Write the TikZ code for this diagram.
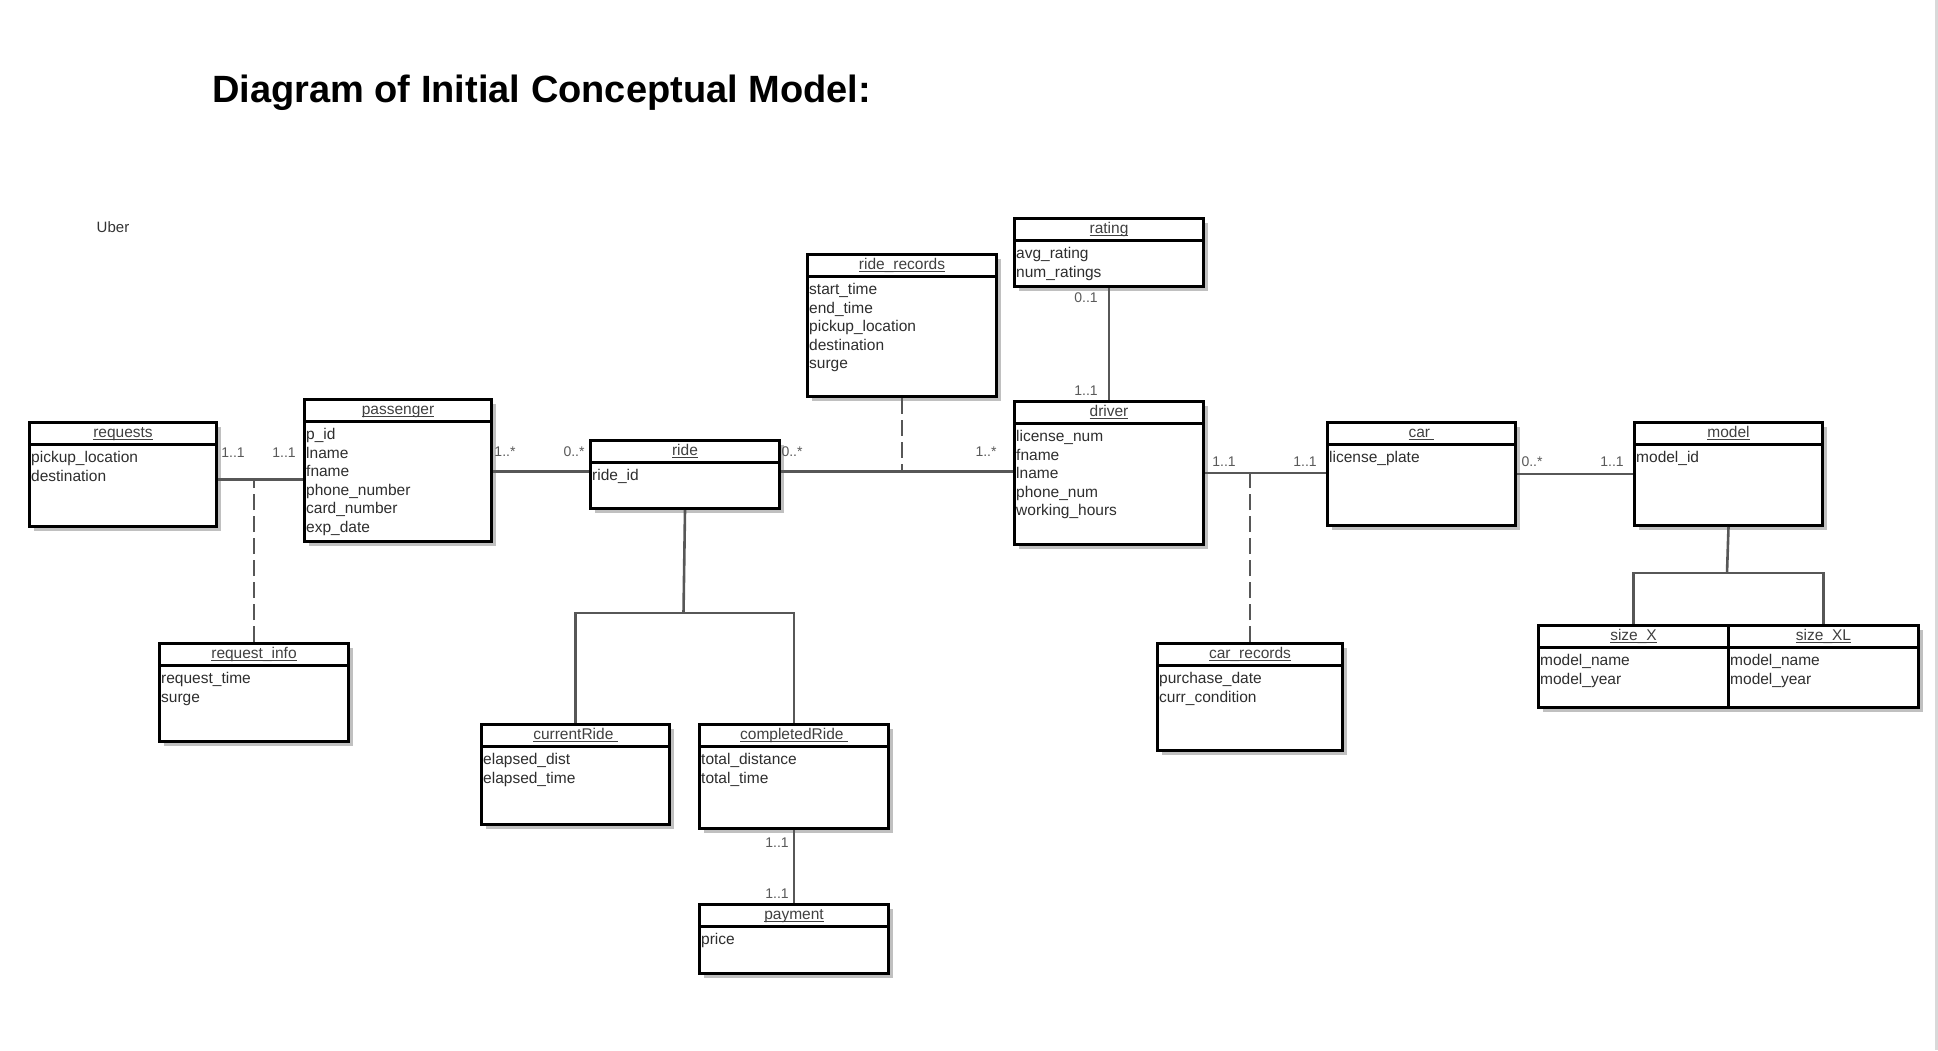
\documentclass[tikz,border=0pt]{standalone}
\usepackage{fontspec}
\setmainfont{Liberation Sans}
\usetikzlibrary{positioning, shadows, calc}

\tikzset{
  box/.style={draw=black, line width=3pt, fill=white, anchor=north west,
    inner sep=0pt,
    drop shadow={shadow xshift=4.5pt, shadow yshift=-4.5pt, fill=black!45, opacity=0.55}},
  hdr/.style={line width=2.6pt, draw=black},
  ttl/.style={font=\fontsize{15.5}{18}\selectfont, text=black!75, inner sep=0pt,
    anchor=base},
  attr/.style={font=\fontsize{15.5}{18.6}\selectfont, text=black!82,
    align=left, anchor=north west, inner xsep=3pt, inner ysep=0pt},
  conn/.style={draw=black!66, line width=2.6pt},
  dsh/.style={conn, dash pattern=on 16pt off 6pt},
  mult/.style={font=\fontsize{14}{16}\selectfont, text=black!65, inner sep=0pt}
}

% underline at a fixed depth below the baseline
\newcommand\ulname[1]{\setbox0\hbox{#1}\rlap{\rule[-2.4pt]{\wd0}{0.9pt}}\box0}

% class box: name, left, top, width, height, title, attributes
\newcommand\umlbox[7]{%
  \node[box, minimum width=#4, minimum height=#5] (#1) at (#2,#3) {};
  \draw[hdr] ([yshift=-23.5pt]#1.north west) -- ([yshift=-23.5pt]#1.north east);
  \node[ttl] (#1-ttl) at ([yshift=-16.5pt]#1.north) {\ulname{#6}};
  \node[attr] (#1-att) at ([yshift=-30pt]#1.north west) {#7};
}

\begin{document}
\begin{tikzpicture}[x=1pt, y=-1pt]
\useasboundingbox (0,0) rectangle (1938,1050);

% page edge
\draw[draw=black!15, line width=2.5pt] (1936.5,0) -- (1936.5,1050);

% ---------------------------------------------------------------
%  titles
% ---------------------------------------------------------------
\node[font=\fontsize{38}{44}\selectfont\bfseries, anchor=base west, inner sep=0pt]
  (title) at (212,102) {Diagram of Initial Conceptual Model:};
\node[font=\fontsize{15}{18}\selectfont, text=black!80] (uber) at (113,227) {Uber};

% ---------------------------------------------------------------
%  classes
% ---------------------------------------------------------------
\umlbox{requests}{28}{421}{187}{104}{requests}{pickup\_location\\destination}
\umlbox{passenger}{303}{398}{187}{142}{passenger}
  {p\_id\\lname\\fname\\phone\_number\\card\_number\\exp\_date}
\umlbox{reqInfo}{158}{642}{189}{98}{request\_info}{request\_time\\surge}
\umlbox{ride}{589}{439}{189}{68}{ride}{ride\_id}
\umlbox{rideRec}{806}{253}{189}{142}{ride\_records}
  {start\_time\\end\_time\\pickup\_location\\destination\\surge}
\umlbox{rating}{1013}{217}{189}{68}{rating}{avg\_rating\\num\_ratings}
\umlbox{driver}{1013}{400}{189}{143}{driver}
  {license\_num\\fname\\lname\\phone\_num\\working\_hours}
\umlbox{car}{1326}{421}{188}{103}{car\ }{license\_plate}
\umlbox{model}{1633}{421}{188}{103}{model}{model\_id}
\umlbox{carRec}{1156}{642}{185}{107}{car\_records}{purchase\_date\\curr\_condition}
\umlbox{sizeX}{1537}{624}{190}{82}{size\_X}{model\_name\\model\_year}
\umlbox{sizeXL}{1727}{624}{190}{82}{size\_XL}{model\_name\\model\_year}
\umlbox{curRide}{480}{723}{188}{100}{currentRide\ }{elapsed\_dist\\elapsed\_time}
\umlbox{doneRide}{698}{723}{189}{104}{completedRide\ }{total\_distance\\total\_time}
\umlbox{payment}{698}{903}{189}{69}{payment}{price}

% ---------------------------------------------------------------
%  associations
% ---------------------------------------------------------------
\draw[conn] ([yshift=-5pt]requests.east)
  -- coordinate (rqMid) ([yshift=-5pt]requests.east -| passenger.west);
\draw[dsh] (reqInfo.north) -- (reqInfo.north |- rqMid);

\draw[conn] ([yshift=-1pt]passenger.east) -- ([yshift=-1pt]passenger.east -| ride.west);

\draw[conn] ([yshift=3pt]ride.east)
  -- coordinate (rdMid) ([yshift=3pt]ride.east -| driver.west);
\draw[dsh] (rideRec.south) -- (rideRec.south |- rdMid);

\draw[conn] (rating.south) -- (driver.north);

\draw[conn] (driver.east) -- coordinate (dcMid) (driver.east -| car.west);
\draw[dsh] (carRec.north) -- (carRec.north |- dcMid);

\draw[conn] (car.east) -- (model.west);

% generalisations
\coordinate (modelSplit) at (1727,573);
\draw[conn] (model.south) -- (modelSplit);
\draw[conn] (sizeX.north) |- (modelSplit) -| (sizeXL.north);

\coordinate (rideSplit) at (683.5,613);
\draw[conn] (ride.south) -- (rideSplit);
\draw[conn] (curRide.north) |- (rideSplit) -| (doneRide.north);

\draw[conn] (doneRide.south) -- (payment.north);

% ---------------------------------------------------------------
%  multiplicities
% ---------------------------------------------------------------
\node[mult] (m1) at (233,453) {1..1};
\node[mult] (m2) at (284,453) {1..1};
\node[mult] (m3) at (505,452) {1..*};
\node[mult] (m4) at (574,452) {0..*};
\node[mult] (m5) at (792,452) {0..*};
\node[mult] (m6) at (986,452) {1..*};
\node[mult] (m7) at (1086,298) {0..1};
\node[mult] (m8) at (1086,391) {1..1};
\node[mult] (m9) at (1224,462) {1..1};
\node[mult] (m10) at (1305,462) {1..1};
\node[mult] (m11) at (1532,462) {0..*};
\node[mult] (m12) at (1612,462) {1..1};
\node[mult] (m13) at (777,843) {1..1};
\node[mult] (m14) at (777,894) {1..1};

\end{tikzpicture}
\end{document}
